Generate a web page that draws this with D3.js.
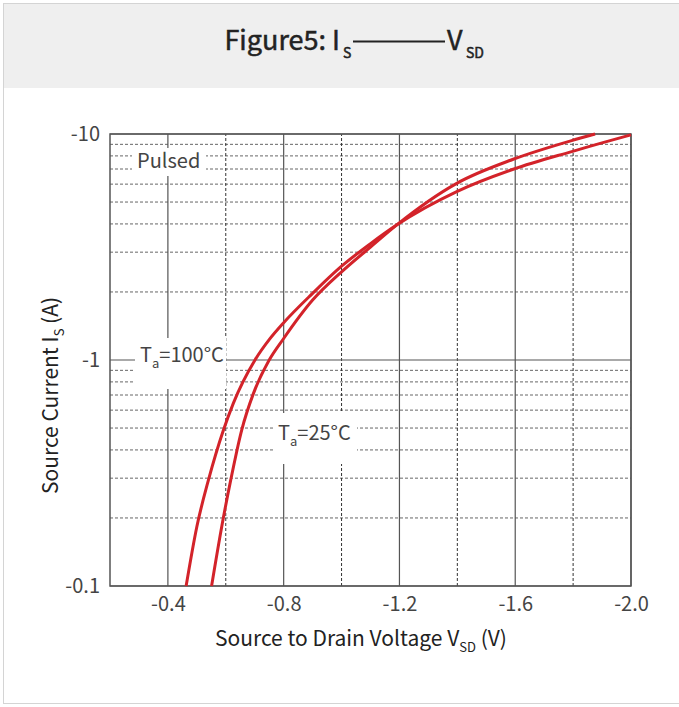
<!DOCTYPE html>
<html>
<head>
<meta charset="utf-8">
<script src="https://cdn.jsdelivr.net/npm/d3@7"></script>
<style>
  body { margin: 0; background: #fff; }
  svg { display: block; font-family: "Noto Sans CJK SC", "Noto Sans", sans-serif; }
</style>
</head>
<body>
<div id="vis"></div>
<script>
// values
const xTicks = [-0.4, -0.8, -1.2, -1.6, -2.0];
const xMinor = [-0.6, -1.0, -1.4, -1.8];
const yTicks = [-10, -1, -0.1];
const yMinor = [-2, -3, -4, -5, -6, -7, -8, -9, -0.2, -0.3, -0.4, -0.5, -0.6, -0.7, -0.8, -0.9];

const v100 = [-0.463, -0.500, -0.540, -0.592, -0.626, -0.701, -0.75, -0.80, -0.90, -1.00, -1.10, -1.19, -1.398, -1.593, -1.795, -2.0];
const i100 = [-0.1, -0.183, -0.294, -0.49, -0.643, -1.0, -1.23, -1.462, -1.972, -2.60, -3.273, -3.954, -5.56, -6.98, -8.36, -9.91];
const v25 = [-0.551, -0.588, -0.617, -0.655, -0.695, -0.750, -0.80, -0.90, -1.00, -1.10, -1.19, -1.398, -1.593, -1.795, -1.876];
const i25 = [-0.1, -0.189, -0.294, -0.49, -0.708, -1.0, -1.245, -1.841, -2.455, -3.162, -3.954, -6.05, -7.73, -9.35, -10];

const WIDTH = 679, HEIGHT = 707;
const MARG = {left: 110, right: 48, top: 134, bottom: 121};

const svg = d3.select("#vis").append("svg")
    .attr("width", WIDTH)
    .attr("height", HEIGHT);

// card + title band
svg.append("rect").attr("x", 3.5).attr("y", 3.5).attr("width", 690).attr("height", 700)
    .attr("fill", "#fff").attr("stroke", "#d4d4d4");
svg.append("rect").attr("x", 4).attr("y", 4).attr("width", 680).attr("height", 84)
    .attr("fill", "#efefef");

const X = d3.scaleLinear().domain([-0.2, -2.0]).range([MARG.left, WIDTH - MARG.right]);
const Y = d3.scaleLog().domain([-0.1, -10]).range([HEIGHT - MARG.bottom, MARG.top]);

const x0 = X.range()[0], x1 = X.range()[1];
const y0 = Y.range()[0], y1 = Y.range()[1];

// grid
const grid = svg.append("g");
grid.selectAll(".hm").data(yMinor).enter().append("line")
    .attr("x1", x0).attr("x2", x1)
    .attr("y1", d => Y(d)).attr("y2", d => Y(d))
    .attr("stroke", "#666").attr("stroke-dasharray", "3,2");
grid.selectAll(".vm").data(xMinor).enter().append("line")
    .attr("x1", d => X(d)).attr("x2", d => X(d))
    .attr("y1", y0).attr("y2", y1)
    .attr("stroke", "#333").attr("stroke-dasharray", "3,2");
grid.selectAll(".vs").data(xTicks).enter().append("line")
    .attr("x1", d => X(d)).attr("x2", d => X(d))
    .attr("y1", y0).attr("y2", y1)
    .attr("stroke", "#555").attr("stroke-width", 1.2);
grid.selectAll(".hs").data(yTicks).enter().append("line")
    .attr("x1", x0).attr("x2", x1)
    .attr("y1", d => Y(d)).attr("y2", d => Y(d))
    .attr("stroke", "#555").attr("stroke-width", 1.2);
svg.append("rect").attr("x", x0).attr("y", y1).attr("width", x1 - x0).attr("height", y0 - y1)
    .attr("fill", "none").attr("stroke", "#555").attr("stroke-width", 1.5);

// axes (labels only)
const xAxis = svg.append("g")
    .attr("transform", "translate(0," + (y0 + 8) + ")")
    .call(d3.axisBottom(X).tickValues(xTicks).tickSize(0).tickFormat(d => d.toFixed(1)));
const yAxis = svg.append("g")
    .attr("transform", "translate(" + (x0 - 7) + ",0)")
    .call(d3.axisLeft(Y).tickValues(yTicks).tickSize(0).tickFormat(d => String(d)));
[xAxis, yAxis].forEach(a => {
  a.select(".domain").remove();
  a.selectAll("text").attr("font-size", 20).attr("fill", "#444")
      .attr("font-family", '"Noto Sans CJK SC", sans-serif');
});

// annotation boxes
function note(bx, by, bw, bh, tx, ty, main, sub, rest) {
  svg.append("rect").attr("x", bx).attr("y", by).attr("width", bw).attr("height", bh).attr("fill", "#fff");
  const t = svg.append("text").attr("x", tx).attr("y", ty)
      .attr("font-size", 20).attr("fill", "#444").text(main);
  if (sub) {
    t.append("tspan").attr("font-size", 13).attr("dy", 6).text(sub);
    t.append("tspan").attr("dy", -6).text(rest);
  }
}
note(132, 148, 74, 28, 137, 168, "Pulsed");
note(135, 338, 91, 51, 140, 362, "T", "a", "=100°C");
note(275, 413, 82, 51, 278, 440, "T", "a", "=25°C");

// curves
const line = d3.line()
    .x(d => X(d[0])).y(d => Y(d[1]))
    .curve(d3.curveMonotoneX);
[[v100, i100], [v25, i25]].forEach(([vs, is]) => {
  svg.append("path")
      .datum(vs.map((v, k) => [v, is[k]]))
      .attr("d", line)
      .attr("fill", "none")
      .attr("stroke", "#d3232a")
      .attr("stroke-width", 3);
});

// axis titles
const xt = svg.append("text").attr("x", 215).attr("y", 646)
    .attr("font-size", 21).attr("fill", "#222").text("Source to Drain Voltage V");
xt.append("tspan").attr("font-size", 13).attr("dy", 6).text("SD");
xt.append("tspan").attr("dy", -6).text(" (V)");

const yt = svg.append("text")
    .attr("transform", "translate(58,494) rotate(-90)")
    .attr("font-size", 21).attr("fill", "#222").text("Source Current I");
yt.append("tspan").attr("font-size", 13).attr("dy", 6).text("S");
yt.append("tspan").attr("dy", -6).text(" (A)");

// title
const title = svg.append("g").attr("fill", "#222").attr("stroke", "#222").attr("stroke-width", 0.5);
title.append("text").attr("x", 340).attr("y", 50).attr("text-anchor", "end")
    .attr("font-size", 27).text("Figure5: I");
title.append("text").attr("x", 343).attr("y", 58).attr("font-size", 14).text("S");
title.append("line").attr("x1", 353).attr("x2", 445).attr("y1", 41.5).attr("y2", 41.5)
    .attr("stroke-width", 2);
title.append("text").attr("x", 447).attr("y", 50)
    .attr("font-size", 27).text("V");
title.append("text").attr("x", 466).attr("y", 58).attr("font-size", 14).text("SD");
</script>
</body>
</html>
